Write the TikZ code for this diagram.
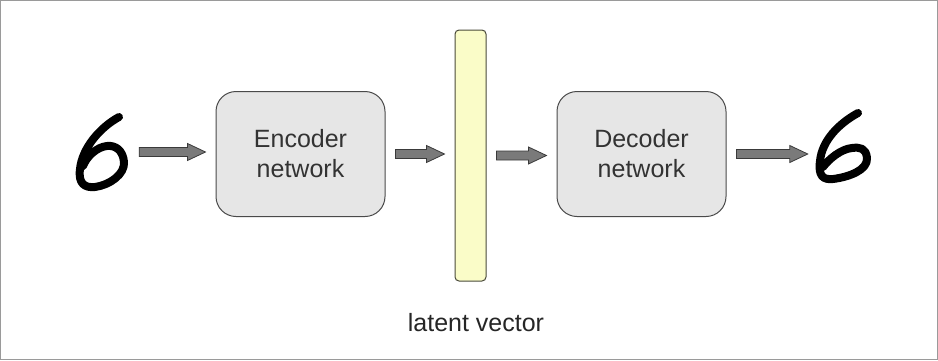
\documentclass[tikz,border=0pt]{standalone}
\usepackage{fontspec}
\setmainfont{Liberation Sans}
\usetikzlibrary{calc}
\definecolor{boxfill}{HTML}{E6E6E6}
\definecolor{boxline}{HTML}{4A4A4A}
\definecolor{barfill}{HTML}{FAFCC8}
\definecolor{barline}{HTML}{4A4A3A}
\definecolor{arrowfill}{HTML}{7A7A7A}
\definecolor{arrowline}{HTML}{3A3A3A}
\definecolor{framecol}{HTML}{9A9A9A}
\begin{document}
\begin{tikzpicture}[x=1pt,y=-1pt,
  netbox/.style={draw=boxline, fill=boxfill, line width=1pt, rounded corners=20pt,
    minimum width=169pt, minimum height=125pt, inner sep=0pt, align=center,
    font=\fontsize{25}{30}\selectfont, text=black!80},
  latentbar/.style={draw=barline, fill=barfill, line width=1pt, rounded corners=4pt,
    minimum width=31pt, minimum height=251pt, inner sep=0pt},
  digitbox/.style={minimum width=54pt, minimum height=75pt, inner sep=0pt},
  digitstroke/.style={line width=8pt, line cap=round, line join=round, black},
  fatarrow/.style={draw=arrowline, fill=arrowfill, line width=0.8pt,
    to path={let \p1=(\tikztostart), \p2=(\tikztotarget) in
      (\x1+10pt,\y1+4.5pt) -- (\x2-28pt,\y1+4.5pt) -- (\x2-28pt,\y1+8.5pt)
      -- (\x2-10pt,\y1) -- (\x2-28pt,\y1-8.5pt) -- (\x2-28pt,\y1-4.5pt)
      -- (\x1+10pt,\y1-4.5pt) -- cycle}},
  lbl/.style={font=\fontsize{25}{30}\selectfont, text=black!85}
]
\useasboundingbox (0,0) rectangle (938,360);
\draw[framecol, line width=1pt] (0.5,0.5) rectangle (937.5,359.5);

\node[digitbox] (sixL) at (102,152) {};
\node[netbox] (enc) at (300.5,154) {Encoder\\network};
\node[latentbar] (bar) at (470.5,155.5) {};
\node[netbox] (dec) at (641.5,154) {Decoder\\network};
\node[digitbox, minimum width=50pt] (sixR) at (843,151) {};
\node[lbl] (latent) at (476,323) {latent vector};

% handwritten digits
\draw[digitstroke] ($(sixL.center)+(17,-35)$)
  .. controls +(-20,11) and +(2,-20) .. ($(sixL.center)+(-22,17)$)
  .. controls +(-2,15) and +(-10,1) .. ($(sixL.center)+(-7,35)$)
  .. controls +(15,-2) and +(1,12) .. ($(sixL.center)+(22,10)$)
  .. controls +(-1,-12) and +(8,-1) .. ($(sixL.center)+(5,-6)$)
  .. controls +(-10,1) and +(4,-10) .. ($(sixL.center)+(-19,14)$);
\draw[digitstroke] ($(sixR.center)+(15,-38)$)
  .. controls +(-20,11) and +(2,-20) .. ($(sixR.center)+(-23,10)$)
  .. controls +(-2,15) and +(-10,1) .. ($(sixR.center)+(-10,28)$)
  .. controls +(16,-2) and +(1,12) .. ($(sixR.center)+(24,7)$)
  .. controls +(-1,-10) and +(8,-1) .. ($(sixR.center)+(9,-3)$)
  .. controls +(-11,1) and +(6,-8) .. ($(sixR.center)+(-20,16)$);

% block arrows
\draw[fatarrow] (sixL.east) to (enc.west);
\draw[fatarrow] (enc.east) to (bar.west);
\draw[fatarrow] (bar.east) to (dec.west);
\draw[fatarrow] (dec.east) to (sixR.west);
\end{tikzpicture}
\end{document}
